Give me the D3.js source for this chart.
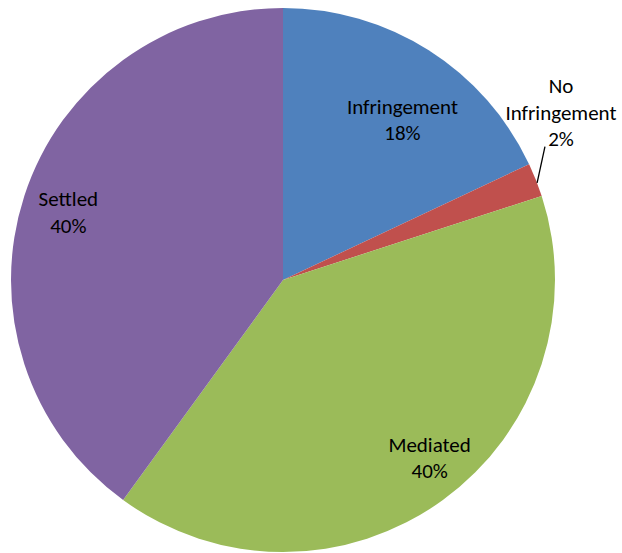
<!DOCTYPE html>
<html>
<head>
<meta charset="utf-8">
<script src="https://cdn.jsdelivr.net/npm/d3@7"></script>
<style>
  html, body { margin: 0; padding: 0; background: #fff; }
  svg { display: block; }
  text { font-family: Carlito, Lato, "Open Sans", sans-serif; fill: #000; }
</style>
</head>
<body>
<svg id="chart" width="622" height="553"></svg>
<script>
// Outcome categories and their shares (percent)
const categories = ["Infringement", "No Infringement", "Mediated", "Settled"];
const shares = [18, 2, 40, 40];
const colors = ["#4F81BD", "#C0504D", "#9BBB59", "#8064A2"];

const width = 622, height = 553;
const cx = 283, cy = 280, radius = 272;

const svg = d3.select("#chart");
const g = svg.append("g").attr("transform", `translate(${cx},${cy})`);

const data = categories.map((c, i) => ({ category: c, value: shares[i], color: colors[i] }));

const pie = d3.pie().sort(null).value(d => d.value);
const arc = d3.arc().innerRadius(0).outerRadius(radius);
const arcs = pie(data);

g.selectAll("path.slice")
  .data(arcs)
  .join("path")
  .attr("class", "slice")
  .attr("d", arc)
  .attr("fill", d => d.data.color);

// Label placement: radius fraction and angular nudge (degrees) from slice mid-angle
const labelLayout = {
  "Infringement":    { r: 0.714, da: 5.55, outside: false },
  "No Infringement": { r: 1.18,  da: -8.4, outside: true },
  "Mediated":        { r: 0.868, da: -2.4, outside: false },
  "Settled":         { r: 0.820, da: -2.24, outside: false }
};

const fontSize = 21, lineH = 26.5;
const toRad = Math.PI / 180;

function polar(angle, r) {
  return [Math.sin(angle) * r, -Math.cos(angle) * r];
}

function writeLines(x, yMid, lines) {
  const t = g.append("text")
    .attr("text-anchor", "middle")
    .attr("font-size", fontSize);
  lines.forEach((ln, i) => {
    t.append("tspan")
      .attr("x", x)
      .attr("y", yMid + (i - (lines.length - 1) / 2) * lineH)
      .text(ln);
  });
}

arcs.forEach(a => {
  const lay = labelLayout[a.data.category];
  const midAngle = (a.startAngle + a.endAngle) / 2;
  const pct = a.data.value + "%";
  const [x, y] = polar(midAngle + lay.da * toRad, radius * lay.r);
  if (!lay.outside) {
    writeLines(x, y, [a.data.category, pct]);
  } else {
    // Outside label stacked above a leader line to the slice edge
    writeLines(x, y, ["No", "Infringement", pct]);
    const edge = polar(midAngle + 0.7 * toRad, radius);
    g.append("line")
      .attr("x1", edge[0]).attr("y1", edge[1])
      .attr("x2", x - 16).attr("y2", y + 27)
      .attr("stroke", "#000")
      .attr("stroke-width", 1.3);
  }
});
</script>
</body>
</html>
